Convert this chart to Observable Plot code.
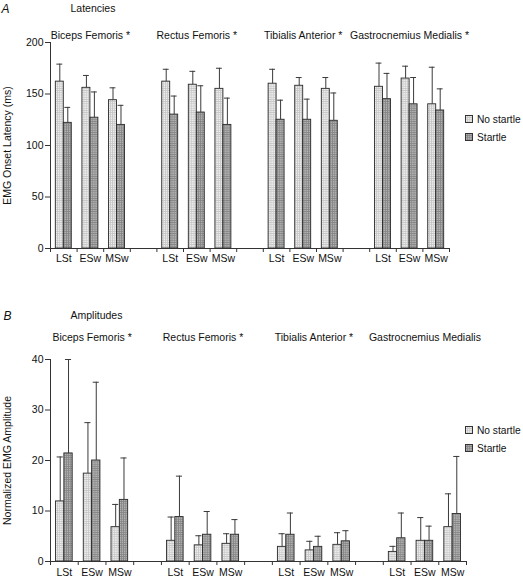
<!DOCTYPE html>
<html>
<head>
<meta charset="utf-8">
<script src="https://cdn.jsdelivr.net/npm/d3@7"></script>
<script src="https://cdn.jsdelivr.net/npm/@observablehq/plot@0.6"></script>
<style>
  body { margin: 0; background: #fff; font-family: "Liberation Sans", Arial, sans-serif; }
  #wrap { position: relative; width: 523px; height: 578px; overflow: hidden; }
  .panel { position: absolute; left: 0; }
  .leg { position: absolute; display: flex; align-items: center; height: 12px; font-size: 10.2px; color: #111; white-space: nowrap; }
  .leg svg { margin-right: 4px; }
</style>
</head>
<body>
<svg width="0" height="0" style="position:absolute">
  <defs>
    <pattern id="patNo" width="2.2" height="2.2" patternUnits="userSpaceOnUse">
      <rect width="2.2" height="2.2" fill="#f1f1f1"></rect>
      <rect width="2.2" height="0.8" fill="#c6c6c6"></rect>
      <rect width="0.8" height="2.2" fill="#c6c6c6"></rect>
    </pattern>
    <pattern id="patSt" width="2.2" height="2.2" patternUnits="userSpaceOnUse">
      <rect width="2.2" height="2.2" fill="#b6b6b6"></rect>
      <rect width="2.2" height="0.8" fill="#858585"></rect>
      <rect width="0.8" height="2.2" fill="#858585"></rect>
    </pattern>
  </defs>
</svg>
<div id="wrap"></div>
<script>
// ---------- data ----------
const muscles = ["Biceps Femoris", "Rectus Femoris", "Tibialis Anterior", "Gastrocnemius Medialis"];
const latencyTitles = ["Biceps Femoris *", "Rectus Femoris *", "Tibialis Anterior *", "Gastrocnemius Medialis *"];
const amplitudeTitles = ["Biceps Femoris *", "Rectus Femoris *", "Tibialis Anterior *", "Gastrocnemius Medialis"];
const phases = ["LSt", "ESw", "MSw"];
const conditions = ["No startle", "Startle"];

// EMG onset latency (ms): mean and upper error-bar end, per muscle x phase
const latNoStartle    = [162, 156, 144,  162, 159, 155,  160, 158, 155,  157, 165, 140];
const latNoStartleErr = [179, 168, 156,  174, 172, 175,  174, 166, 166,  180, 177, 176];
const latStartle      = [122, 127, 120,  130, 132, 120,  125, 125, 124,  145, 140, 134];
const latStartleErr   = [137, 152, 139,  148, 158, 146,  144, 145, 151,  170, 166, 155];

// Normalized EMG amplitude
const ampNoStartle    = [11.9, 17.4, 6.8,  4.1, 3.2, 3.5,  2.9, 2.2, 3.3,  1.9, 4.1, 6.8];
const ampNoStartleErr = [20.7, 27.5, 11.3, 8.8, 5.1, 5.5,  5.5, 4.0, 5.7,  3.0, 8.7, 13.4];
const ampStartle      = [21.4, 20.0, 12.2, 8.8, 5.3, 5.3,  5.3, 2.9, 4.0,  4.6, 4.1, 9.4];
const ampStartleErr   = [40.0, 35.5, 20.5, 16.9, 9.9, 8.3, 9.6, 5.0, 6.1,  9.6, 7.0, 20.8];

const latencyTicks = [0, 50, 100, 150, 200];
const amplitudeTicks = [0, 10, 20, 30, 40];

// ---------- helpers ----------
const FONT = '"Liberation Sans", Arial, sans-serif';
function buildRows(ns, nsErr, st, stErr) {
  const out = [];
  muscles.forEach((m, g) => phases.forEach((p, k) => {
    const i = g * 3 + k, slot = g * 4 + k;
    out.push({muscle: m, phase: p, cond: conditions[0], slot, value: ns[i], err: nsErr[i]});
    out.push({muscle: m, phase: p, cond: conditions[1], slot, value: st[i], err: stErr[i]});
  }));
  return out;
}
const left = d => d.slot + (d.cond === conditions[0] ? 0.2 : 0.5);
const center = d => left(d) + 0.15;

function panel(o) {
  const data = o.data;
  const cats = data.filter(d => d.cond === conditions[0]);
  const groups = o.titles.map((t, g) => ({title: t, center: g * 4 + 1.5}));
  return Plot.plot({
    width: 523, height: o.height,
    marginLeft: 50, marginRight: o.marginRight, marginTop: o.marginTop, marginBottom: o.marginBottom,
    style: {fontFamily: FONT, fontSize: "10.5px", color: "#111", background: "transparent", overflow: "visible"},
    x: {domain: [0, 15], axis: null},
    y: {domain: [0, o.ymax], axis: null},
    marks: [
      Plot.rectY(data, {filter: d => d.cond === conditions[0], x1: left, x2: d => left(d) + 0.3, y1: 0, y2: "value",
        fill: "url(#patNo)", stroke: "#2a2a2a", strokeWidth: 0.9}),
      Plot.rectY(data, {filter: d => d.cond === conditions[1], x1: left, x2: d => left(d) + 0.3, y1: 0, y2: "value",
        fill: "url(#patSt)", stroke: "#2a2a2a", strokeWidth: 0.9}),
      Plot.ruleX(data, {x: center, y1: "value", y2: "err", stroke: "#3a3a3a", strokeWidth: 1}),
      Plot.ruleY(data, {x1: d => center(d) - 0.11, x2: d => center(d) + 0.11, y: "err", stroke: "#3a3a3a", strokeWidth: 1}),
      Plot.ruleY([0], {stroke: "#333"}),
      Plot.ruleX([0], {stroke: "#333"}),
      Plot.axisX({ticks: d3.range(16), tickFormat: () => "", tickSize: 4, label: null, stroke: "#333"}),
      Plot.axisY({ticks: o.ticks, tickSize: 5, tickPadding: 2, label: o.label, labelAnchor: "center",
        labelOffset: 47, labelArrow: "none", stroke: "#333", fill: "#111"}),
      Plot.text(cats, {x: d => d.slot + 0.5, text: "phase", frameAnchor: "bottom", dy: o.catDy, fill: "#111"}),
      Plot.text(groups, {x: "center", text: "title", frameAnchor: "top", dy: o.titleDy, fill: "#111"}),
      Plot.text([o.letter], {frameAnchor: "top-left", dx: o.letterDx, dy: o.headDy, fontStyle: "italic",
        fontSize: 12, textAnchor: "start", fill: "#111"}),
      Plot.text([o.heading], {frameAnchor: "top-left", dx: 20, dy: o.headDy, textAnchor: "start", fill: "#111"})
    ]
  });
}

const wrap = document.getElementById("wrap");

function addPanel(top, o) {
  const el = panel(o);
  el.classList.add("panel");
  el.style.top = top + "px";
  wrap.appendChild(el);
}

function addLegend(x, yNo, ySt) {
  [[conditions[0], "patNo", yNo], [conditions[1], "patSt", ySt]].forEach(([name, pat, y]) => {
    const div = document.createElement("div");
    div.className = "leg";
    div.style.left = x + "px";
    div.style.top = (y - 6) + "px";
    div.innerHTML = `<svg width="8" height="8"><rect x="0.5" y="0.5" width="7" height="7" fill="url(#${pat})" stroke="#333" stroke-width="1"></rect></svg><span>${name}</span>`;
    wrap.appendChild(div);
  });
}

addPanel(0, {
  data: buildRows(latNoStartle, latNoStartleErr, latStartle, latStartleErr),
  titles: latencyTitles, ticks: latencyTicks, ymax: 200, label: "EMG Onset Latency (ms)",
  height: 290, marginTop: 42, marginBottom: 42, marginRight: 74,
  titleDy: -11, catDy: 13, letter: "A", letterDx: -49, heading: "Latencies", headDy: -38
});
addPanel(290, {
  data: buildRows(ampNoStartle, ampNoStartleErr, ampStartle, ampStartleErr),
  titles: amplitudeTitles, ticks: amplitudeTicks, ymax: 40, label: "Normalized EMG Amplitude",
  height: 288, marginTop: 69, marginBottom: 17, marginRight: 57,
  titleDy: -26, catDy: 14, letter: "B", letterDx: -47, heading: "Amplitudes", headDy: -48
});
addLegend(465, 119, 137);
addLegend(465, 430, 448);
</script>
</body>
</html>
